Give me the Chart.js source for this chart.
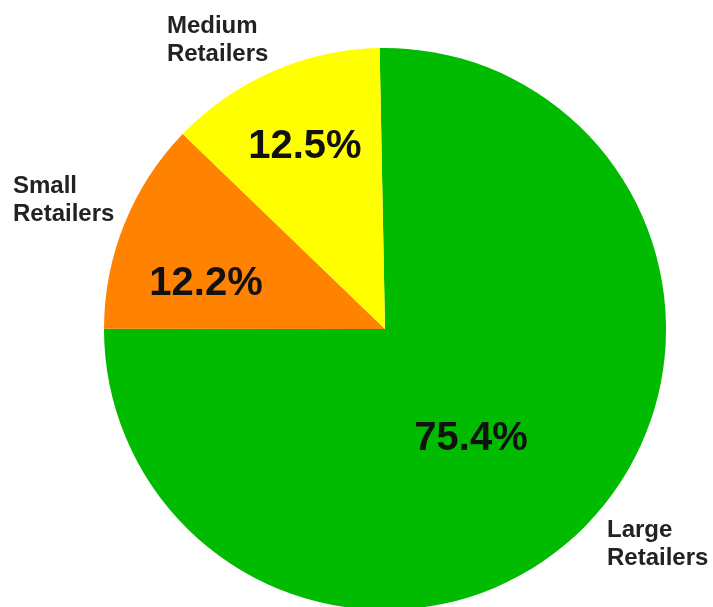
<!DOCTYPE html>
<html>
<head>
<meta charset="utf-8">
<script src="https://cdn.jsdelivr.net/npm/chart.js"></script>
<style>
  html, body { margin: 0; padding: 0; background: #fff; overflow: hidden; }
  #wrap { position: absolute; left: 0; top: 0; width: 713px; height: 620px; }
</style>
</head>
<body>
<div id="wrap"><canvas id="shareChart" width="713" height="620"></canvas></div>
<script>
// === DATA ===
const segments = ["Large Retailers", "Small Retailers", "Medium Retailers"];
const shares = [75.4, 12.2, 12.5];
const pctLabels = ["75.4%", "12.2%", "12.5%"];
const nameLines = [["Large", "Retailers"], ["Small", "Retailers"], ["Medium", "Retailers"]];
const sliceColors = ["#00bb00", "#ff8200", "#ffff00"];

// label spots (text baseline), in units of the pie radius from its centre
const pctSpots = [[0.306, 0.431], [-0.637, -0.121], [-0.285, -0.609]];
const nameSpots = [[0.79, 0.74], [-1.324, -0.484], [-0.776, -1.053]];

// === LABEL PLUGIN ===
const sliceText = {
    id: "sliceText",
    afterDatasetsDraw(chart) {
        const ctx = chart.ctx;
        const arcs = chart.getDatasetMeta(0).data;
        ctx.save();
        ctx.textBaseline = "alphabetic";
        arcs.forEach((arc, i) => {
            const r = arc.outerRadius;
            // percentage inside the slice
            ctx.font = "bold 40px 'Liberation Sans', Arial, sans-serif";
            ctx.fillStyle = "#111";
            ctx.textAlign = "center";
            ctx.fillText(pctLabels[i], arc.x + pctSpots[i][0] * r, arc.y + pctSpots[i][1] * r);

            // segment name outside
            ctx.font = "bold 24px 'Liberation Sans', Arial, sans-serif";
            ctx.fillStyle = "#222";
            ctx.textAlign = "left";
            const x0 = arc.x + nameSpots[i][0] * r;
            const y0 = arc.y + nameSpots[i][1] * r;
            nameLines[i].forEach((line, k) => ctx.fillText(line, x0, y0 + k * 28));
        });
        ctx.restore();
    }
};

new Chart(document.getElementById("shareChart"), {
    type: "pie",
    data: {
        labels: segments,
        datasets: [{
            data: shares,
            backgroundColor: sliceColors,
            borderWidth: 0
        }]
    },
    options: {
        responsive: false,
        animation: false,
        rotation: -1.1,
        layout: { padding: { left: 104, right: 47, top: 48, bottom: 10 } },
        plugins: {
            legend: { display: false },
            tooltip: { enabled: false }
        }
    },
    plugins: [sliceText]
});
</script>
</body>
</html>
